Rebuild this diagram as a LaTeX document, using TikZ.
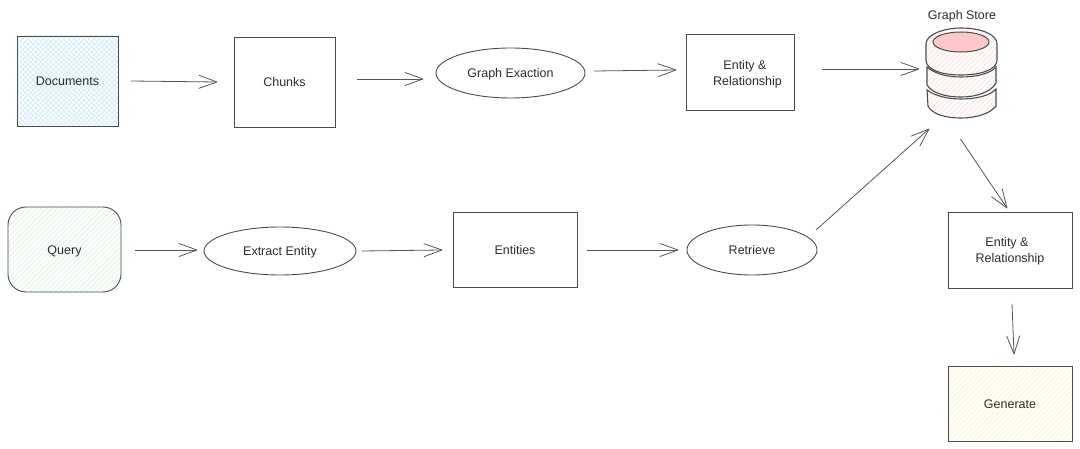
\documentclass[tikz,border=0pt]{standalone}
\usepackage{fontspec}
\setmainfont{Liberation Sans}
\usetikzlibrary{arrows.meta,patterns.meta,shapes.geometric}
\definecolor{ink}{HTML}{2B2B2B}
\definecolor{bluehatch}{HTML}{D4ECFC}
\definecolor{greenhatch}{HTML}{DDF6E3}
\definecolor{yellowhatch}{HTML}{FFF3CF}
\definecolor{pinkhatch}{HTML}{FFE0E0}
\definecolor{pinkfill}{HTML}{FFC9C9}
\pgfdeclarearrow{
  name=OpenVee,
  setup code={\pgfarrowssettipend{0pt}\pgfarrowssetlineend{-0.6pt}\pgfarrowssetbackend{-18pt}\pgfarrowssetvisualbackend{-18pt}},
  drawing code={\pgfsetdash{}{0pt}\pgfsetroundcap\pgfsetroundjoin
    \pgfpathmoveto{\pgfqpoint{-18pt}{6.5pt}}\pgfpathlineto{\pgfqpoint{0pt}{0pt}}\pgfpathlineto{\pgfqpoint{-18pt}{-6.5pt}}\pgfusepathqstroke}
}
\tikzset{
  x=1pt,y=-1pt,
  every node/.style={font=\fontsize{12.5}{15.5}\selectfont,text=ink,align=center,inner sep=0pt,outer sep=0pt},
  lbl/.style={text height=9.5pt,text depth=0pt},
  outline/.style={draw=ink!85,line width=0.9pt},
  boxnode/.style={outline,rectangle,minimum width=#1},
  ovalnode/.style={outline,ellipse},
  arr/.style={draw=ink!80,line width=0.8pt,-{OpenVee}},
  hatchline/.style={pattern={Lines[angle=45,distance=3.6pt,line width=0.9pt]},pattern color=#1},
  hatchback/.style={pattern={Lines[angle=-45,distance=3.6pt,line width=0.9pt]},pattern color=#1}
}
\begin{document}
\begin{tikzpicture}
\useasboundingbox (0,0) rectangle (1080,449);
% fills under nodes
\fill[hatchline=bluehatch] (17,36) rectangle (118,126);
\fill[hatchback=bluehatch] (17,36) rectangle (118,126);
\fill[hatchline=greenhatch,rounded corners=18pt] (8,207) rectangle (121,292);
\fill[hatchline=yellowhatch] (948,366) rectangle (1072,441);
% nodes
\node[boxnode=101pt,minimum height=90pt,lbl] (docs) at (67.5,81) {Documents};
\node[boxnode=101pt,minimum height=90pt,lbl] (chunks) at (284.5,82) {Chunks};
\node[ovalnode,minimum width=149pt,minimum height=50pt,lbl] (ge) at (510.5,73) {Graph Exaction};
\node[boxnode=108pt,minimum height=76pt] (ent) at (740,72) {\rule{0pt}{14pt}\hspace*{10pt}Entity \&\\\hspace*{15pt}Relationship};
\node[outline,rectangle,rounded corners=18pt,minimum width=113pt,minimum height=85pt,lbl] (query) at (64.5,249.5) {Query};
\node[ovalnode,minimum width=152pt,minimum height=48pt,lbl] (extract) at (280,251) {Extract Entity};
\node[boxnode=124pt,minimum height=75pt,lbl] (entities) at (515,249.5) {Entities};
\node[ovalnode,minimum width=130pt,minimum height=50pt,lbl] (retrieve) at (752,250) {Retrieve};
\node[boxnode=124pt,minimum height=76pt] (ent2) at (1010,250) {\rule{0pt}{12pt}Entity \&\hspace*{6pt}\\Relationship};
\node[boxnode=124pt,minimum height=75pt,lbl] (gen) at (1010,403.5) {Generate};
\node[minimum width=71pt,minimum height=90pt] (store) at (961.5,73) {};
\node[lbl] (storelabel) at (962,15) {Graph Store};
% database
\begin{scope}[outline,line width=1.1pt]
\path[draw,hatchline=pinkhatch] (926,44) .. controls (926,34) and (945,28) .. (961,28) .. controls (980,28) and (997,34) .. (997,44) -- (997,60) .. controls (997,70) and (980,75) .. (961,75) .. controls (942,75) and (926,70) .. (926,60) -- cycle;
\path[draw,hatchline=pinkhatch] (927,67) .. controls (935,74) and (948,77) .. (961,77) .. controls (975,77) and (990,74) .. (996,67) -- (996,83) .. controls (990,93) and (975,97) .. (961,97) .. controls (945,97) and (932,93) .. (927,85) -- cycle;
\path[draw,hatchline=pinkhatch] (927,90) .. controls (935,96) and (948,99) .. (961,99) .. controls (975,99) and (990,96) .. (996,89) -- (996,106) .. controls (990,114) and (975,118) .. (961,118) .. controls (945,118) and (932,114) .. (928,106) -- cycle;
\draw[fill=pinkfill,line width=1pt] (961,42) ellipse [x radius=28,y radius=10];
\end{scope}
% connectors
\draw[arr] ([shift={(13,0)}]docs.east) -- ([shift={(-17,0)}]chunks.west);
\draw[arr] ([shift={(22,-3)}]chunks.east) -- ([shift={(-13,6)}]ge.west);
\draw[arr] ([shift={(9,-2)}]ge.east) -- ([shift={(-10,-2)}]ent.west);
\draw[arr] ([shift={(28,-3)}]ent.east) -- ([shift={(-7,-4)}]store.west);
\draw[arr] ([shift={(14,0.5)}]query.east) -- ([shift={(-7,-1)}]extract.west);
\draw[arr] ([shift={(6,0)}]extract.east) -- ([shift={(-11,0.5)}]entities.west);
\draw[arr] ([shift={(10,0.5)}]entities.east) -- ([shift={(-9,0)}]retrieve.west);
\draw[arr] ([shift={(-1,-20)}]retrieve.east) -- ([shift={(3,11)}]store.south west);
\draw[arr] ([shift={(-1,21)}]store.south) -- ([shift={(-3,-4)}]ent2.north);
\draw[arr] ([shift={(2,16)}]ent2.south) -- ([shift={(4,-12)}]gen.north);
\end{tikzpicture}
\end{document}
